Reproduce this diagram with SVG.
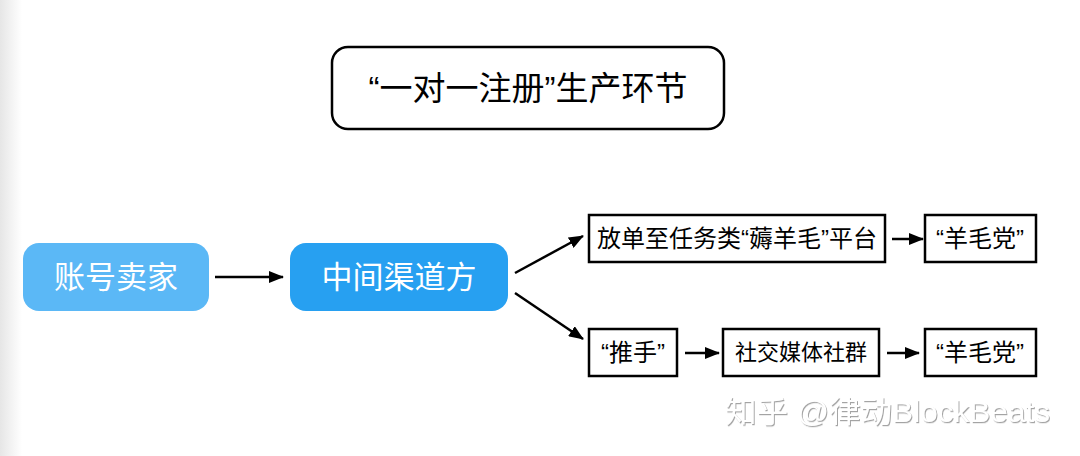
<svg xmlns="http://www.w3.org/2000/svg" width="1080" height="456" viewBox="0 0 1080 456">
<defs>
<linearGradient id="edge" x1="0" y1="0" x2="1" y2="0">
<stop offset="0" stop-color="#e6e6e6"/>
<stop offset="1" stop-color="#ffffff"/>
</linearGradient>
<marker id="ah" viewBox="0 0 15 12" refX="14" refY="6" markerWidth="15" markerHeight="12" markerUnits="userSpaceOnUse" orient="auto">
<path d="M0,0 L15,6 L0,12 Z" fill="#000"/>
</marker>
<filter id="emb" x="-5%" y="-20%" width="110%" height="140%">
<feDropShadow dx="1" dy="1.2" stdDeviation="0.6" flood-color="#9a9a9a" flood-opacity="0.9"/>
</filter>
</defs>
<style>
text{font-family:"Liberation Sans","Noto Sans CJK SC",sans-serif;}
.blue{font-size:31px;fill:#fff;text-anchor:middle;}
.box{fill:#fff;stroke:#000;stroke-width:2.5;}
.lbl{font-size:24px;fill:#000;text-anchor:middle;}
.sm{font-size:22px;}
.conn{stroke:#000;stroke-width:2.5;fill:none;marker-end:url(#ah);}
</style>
<rect width="1080" height="456" fill="#fff"/>
<rect x="0" y="0" width="22" height="456" fill="url(#edge)"/>

<g id="title">
<rect x="332" y="47" width="392" height="82" rx="16" fill="#fff" stroke="#000" stroke-width="2.5"/>
<text x="528" y="100" font-size="33" text-anchor="middle" fill="#000">“一对一注册”生产环节</text>
</g>

<g id="seller">
<rect x="23" y="243" width="186" height="68" rx="16" fill="#5bb8f6"/>
<text class="blue" x="116" y="288">账号卖家</text>
</g>

<g id="middle">
<rect x="290" y="243" width="218" height="68" rx="16" fill="#27a0f1"/>
<text class="blue" x="399" y="288">中间渠道方</text>
</g>

<g id="platform">
<rect class="box" x="589" y="215" width="296" height="47"/>
<text class="lbl" x="737" y="247">放单至任务类“薅羊毛”平台</text>
</g>

<g id="party1">
<rect class="box" x="925" y="215" width="111" height="47"/>
<text class="lbl" x="980" y="247">“羊毛党”</text>
</g>

<g id="pusher">
<rect class="box" x="589" y="329" width="88" height="47"/>
<text class="lbl" x="633" y="361">“推手”</text>
</g>

<g id="social">
<rect class="box" x="723" y="329" width="156" height="47"/>
<text class="lbl sm" x="801" y="360">社交媒体社群</text>
</g>

<g id="party2">
<rect class="box" x="925" y="329" width="111" height="47"/>
<text class="lbl" x="980" y="361">“羊毛党”</text>
</g>

<g id="connectors">
<line class="conn" x1="515" y1="273" x2="583" y2="236"/>
<line class="conn" x1="515" y1="293" x2="583" y2="339"/>
<line class="conn" x1="215" y1="277" x2="283" y2="277"/>
<line class="conn" x1="892" y1="239" x2="923" y2="239"/>
<line class="conn" x1="685" y1="353" x2="719" y2="353"/>
<line class="conn" x1="887" y1="353" x2="919" y2="353"/>
</g>

<text x="725" y="422" font-size="30" fill="#ffffff" filter="url(#emb)" textLength="325" lengthAdjust="spacingAndGlyphs">知乎 @律动BlockBeats</text>
</svg>
